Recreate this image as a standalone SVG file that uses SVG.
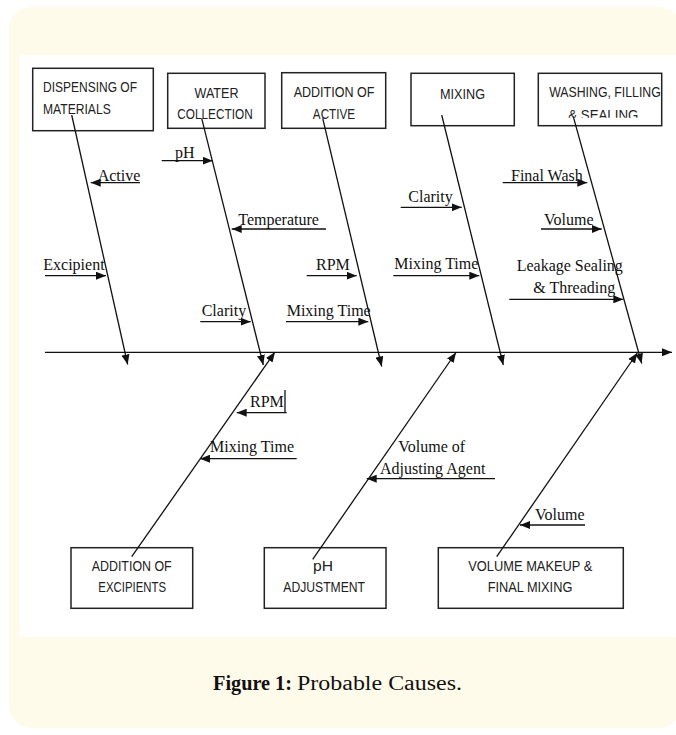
<svg xmlns="http://www.w3.org/2000/svg" width="676" height="735" viewBox="0 0 676 735">
<defs>
<marker id="ah" markerUnits="userSpaceOnUse" markerWidth="10" markerHeight="8" refX="10" refY="4" orient="auto"><path d="M0,0 L10,4 L0,8 z" fill="#111"/></marker>
<clipPath id="clipWash"><rect x="538" y="73" width="125" height="44.8"/></clipPath>
</defs>
<style>
.box{fill:#fff;stroke:#222;stroke-width:1.5}
.bt{font-family:"Liberation Sans",Arial,sans-serif;font-size:15px;fill:#222}
.lb{font-family:"Liberation Serif","Times New Roman",serif;font-size:16px;fill:#111}
.ln{stroke:#111;stroke-width:1.3;fill:none}
.ar{stroke:#111;stroke-width:1.3;fill:none;marker-end:url(#ah)}
.cap{font-family:"Liberation Serif","Times New Roman",serif;font-size:20px;fill:#111}
</style>
<rect x="9" y="7" width="672" height="721" rx="22" fill="#FFFBEA"/>
<rect x="20" y="55" width="656" height="582" fill="#FFFFFF"/>

<g id="dispensing">
<rect class="box" x="32.7" y="68.3" width="120.6" height="62.4"/>
<text class="bt" x="43" y="92" textLength="94" lengthAdjust="spacingAndGlyphs">DISPENSING OF</text>
<text class="bt" x="43" y="113.5" textLength="67.7" lengthAdjust="spacingAndGlyphs">MATERIALS</text>
</g>
<g id="water">
<rect class="box" x="167.7" y="73.3" width="97.3" height="55"/>
<text class="bt" x="216.5" y="97.5" text-anchor="middle" textLength="44" lengthAdjust="spacingAndGlyphs">WATER</text>
<text class="bt" x="215" y="118.5" text-anchor="middle" textLength="75.4" lengthAdjust="spacingAndGlyphs">COLLECTION</text>
</g>
<g id="addition-active">
<rect class="box" x="281.7" y="72.7" width="104" height="55.6"/>
<text class="bt" x="334" y="97" text-anchor="middle" textLength="80.7" lengthAdjust="spacingAndGlyphs">ADDITION OF</text>
<text class="bt" x="334" y="118.5" text-anchor="middle" textLength="42.3" lengthAdjust="spacingAndGlyphs">ACTIVE</text>
</g>
<g id="mixing">
<rect class="box" x="411" y="73.3" width="103.3" height="52.4"/>
<text class="bt" x="462.5" y="98.5" text-anchor="middle" textLength="45" lengthAdjust="spacingAndGlyphs">MIXING</text>
</g>
<g id="washing">
<rect class="box" x="538.3" y="73.3" width="123.4" height="52.4"/>
<text class="bt" x="605" y="97" text-anchor="middle" textLength="111.7" lengthAdjust="spacingAndGlyphs">WASHING, FILLING</text>
<text class="bt" x="603.3" y="120" text-anchor="middle" textLength="70" lengthAdjust="spacingAndGlyphs" clip-path="url(#clipWash)">&amp; SEALING</text>
</g>
<g id="addition-excipients">
<rect class="box" x="71" y="547.7" width="121.7" height="60.6"/>
<text class="bt" x="131.7" y="570.5" text-anchor="middle" textLength="80" lengthAdjust="spacingAndGlyphs">ADDITION OF</text>
<text class="bt" x="132.2" y="591.5" text-anchor="middle" textLength="67.7" lengthAdjust="spacingAndGlyphs">EXCIPIENTS</text>
</g>
<g id="ph-adjustment">
<rect class="box" x="264.3" y="547.7" width="121.7" height="60.6"/>
<text class="bt" x="323" y="570.5" text-anchor="middle" textLength="20" lengthAdjust="spacingAndGlyphs">pH</text>
<text class="bt" x="324.2" y="591.5" text-anchor="middle" textLength="81.7" lengthAdjust="spacingAndGlyphs">ADJUSTMENT</text>
</g>
<g id="volume-makeup">
<rect class="box" x="438.3" y="547.7" width="185" height="60.6"/>
<text class="bt" x="530.3" y="570.5" text-anchor="middle" textLength="124" lengthAdjust="spacingAndGlyphs">VOLUME MAKEUP &amp;</text>
<text class="bt" x="530" y="591.5" text-anchor="middle" textLength="84.7" lengthAdjust="spacingAndGlyphs">FINAL MIXING</text>
</g>

<g id="labels">
<text class="lb" x="97.7" y="180.5">Active</text>
<text class="lb" x="175" y="157.5">pH</text>
<text class="lb" x="238.3" y="225">Temperature</text>
<text class="lb" x="43.3" y="269.5">Excipient</text>
<text class="lb" x="201.7" y="315.7">Clarity</text>
<text class="lb" x="316" y="270">RPM</text>
<text class="lb" x="286.7" y="315.7">Mixing Time</text>
<text class="lb" x="408.3" y="201.7">Clarity</text>
<text class="lb" x="394.3" y="269.3">Mixing Time</text>
<text class="lb" x="511" y="180.5">Final Wash</text>
<text class="lb" x="544" y="225">Volume</text>
<text class="lb" x="516.7" y="270.7">Leakage Sealing</text>
<text class="lb" x="533.3" y="292.7">&amp; Threading</text>
<text class="lb" x="250" y="406.7">RPM</text>
<text class="lb" x="210" y="451.7">Mixing Time</text>
<text class="lb" x="398.3" y="451.7">Volume of</text>
<text class="lb" x="380" y="474.3">Adjusting Agent</text>
<text class="lb" x="535" y="520">Volume</text>
</g>

<g id="connectors">
<path class="ar" d="M45,352.3 L672,352.3"/>
<path class="ar" d="M71.7,115 L127.7,364.5"/>
<path class="ar" d="M201.7,118.3 L263.3,365"/>
<path class="ar" d="M322.7,118.3 L381.7,366.5"/>
<path class="ar" d="M441.7,115 L503.3,365"/>
<path class="ar" d="M573.3,116.7 L641.7,363.5"/>
<path class="ar" d="M131.7,556.7 L275,352"/>
<path class="ar" d="M312.7,559.3 L456,352.5"/>
<path class="ar" d="M496.7,556.7 L637.3,353"/>
<path class="ar" d="M140,182.7 L90.7,182.7"/>
<path class="ar" d="M161.7,160.7 L212.7,160.7"/>
<path class="ar" d="M326,229 L231.7,229"/>
<path class="ar" d="M45,275.7 L106,275.7"/>
<path class="ar" d="M200.3,321.7 L250.7,321.7"/>
<path class="ar" d="M306.7,275.7 L356.7,275.7"/>
<path class="ar" d="M286,321.7 L368.3,321.7"/>
<path class="ar" d="M400.7,207.3 L461.7,207.3"/>
<path class="ar" d="M393.3,275.7 L479.3,275.7"/>
<path class="ar" d="M502.7,182.7 L587.3,182.7"/>
<path class="ar" d="M541,229 L601.7,229"/>
<path class="ar" d="M509.3,299.3 L623.3,299.3"/>
<path class="ar" d="M286.7,412.7 L236.7,412.7"/>
<path class="ar" d="M296.7,458.7 L200,458.7"/>
<path class="ar" d="M495,478.7 L366.7,478.7"/>
<path class="ar" d="M585,525 L520,525"/>
<path class="ln" d="M285,390 L285,412.7"/>
</g>

<text class="cap" x="213" y="690" font-weight="bold" textLength="79" lengthAdjust="spacingAndGlyphs">Figure 1:</text>
<text class="cap" x="297" y="690" textLength="165" lengthAdjust="spacingAndGlyphs">Probable Causes.</text>
</svg>
